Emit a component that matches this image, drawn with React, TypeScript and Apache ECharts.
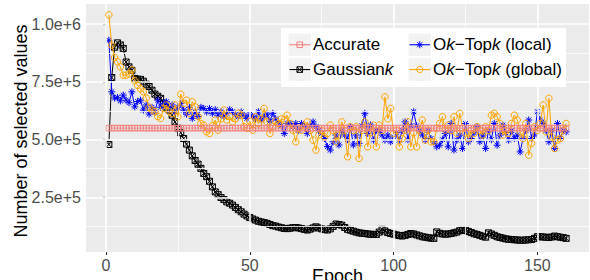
import { useEffect, useRef } from "react";
import * as echarts from "echarts";

// ---------- data (values in thousands of selected values) ----------
const epochs = Array.from({ length: 160 }, (_, i) => i + 1);
const accurateValue = 550;
const gaussianK = [
  479, 769, 900, 919, 910, 895, 836, 815, 800, 765,
  762, 761, 753, 740, 730, 714, 697, 688, 679, 658,
  640, 628, 606, 577, 550, 530, 505, 481, 455, 430,
  410, 394, 376, 354, 340, 320, 296, 274, 262, 250,
  241, 231, 225, 217, 207, 197, 188, 178, 170, 163,
  157, 152, 147, 144, 141, 138, 133, 128, 126, 122,
  119, 116, 115, 117, 119, 120, 118, 115, 112, 109,
  113, 118, 123, 118, 114, 111, 109, 114, 125, 135,
  133, 130, 120, 112, 108, 104, 100, 97, 95, 94,
  92, 91, 90, 90, 100, 112, 105, 98, 94, 91,
  88, 85, 83, 86, 90, 94, 92, 88, 84, 80,
  78, 76, 74, 73, 101, 95, 92, 91, 92, 94,
  97, 100, 106, 109, 108, 103, 98, 93, 90, 86,
  82, 78, 97, 92, 86, 80, 77, 74, 71, 69,
  68, 67, 66, 65, 65, 66, 67, 68, 73, 80,
  80, 79, 78, 77, 79, 83, 80, 78, 76, 73,
];
const oktopkLocal = [
  930, 707, 680, 683, 668, 693, 671, 660, 707, 642,
  665, 671, 628, 650, 611, 640, 620, 671, 640, 657,
  664, 630, 650, 620, 640, 657, 628, 610, 640, 592,
  620, 600, 640, 635, 620, 635, 614, 630, 606, 621,
  600, 614, 630, 621, 610, 599, 620, 605, 592, 610,
  600, 590, 621, 585, 600, 610, 580, 614, 590, 575,
  560, 527, 570, 570, 555, 570, 541, 570, 556, 527,
  560, 577, 556, 540, 527, 505, 470, 455, 491, 520,
  477, 540, 520, 500, 556, 477, 520, 484, 560, 614,
  527, 563, 498, 541, 541, 520, 498, 520, 491, 512,
  530, 498, 540, 577, 500, 560, 621, 560, 541, 520,
  498, 540, 505, 491, 469, 476, 500, 527, 469, 570,
  455, 498, 520, 462, 570, 491, 505, 530, 556, 491,
  520, 462, 541, 500, 570, 476, 520, 563, 530, 498,
  540, 505, 520, 447, 505, 540, 585, 505, 520, 621,
  585, 570, 540, 491, 541, 462, 570, 505, 541, 534,
];
const oktopkGlobal = [
  1040, 909, 856, 837, 815, 779, 779, 784, 801, 755,
  735, 720, 707, 680, 640, 628, 621, 600, 592, 635,
  650, 621, 614, 650, 599, 697, 657, 671, 614, 664,
  642, 600, 570, 563, 534, 527, 560, 585, 541, 590,
  628, 585, 600, 577, 590, 614, 606, 556, 549, 580,
  541, 599, 570, 590, 635, 577, 527, 556, 580, 570,
  590, 585, 606, 570, 540, 491, 549, 541, 560, 577,
  540, 498, 455, 520, 540, 512, 527, 563, 540, 491,
  520, 577, 540, 426, 556, 540, 556, 419, 540, 577,
  469, 530, 563, 469, 563, 540, 685, 590, 635, 527,
  540, 469, 505, 540, 577, 469, 530, 469, 540, 585,
  498, 540, 491, 491, 549, 570, 599, 541, 563, 540,
  599, 527, 614, 549, 530, 505, 541, 527, 556, 540,
  520, 556, 540, 606, 614, 599, 570, 520, 540, 527,
  570, 606, 585, 534, 505, 570, 433, 484, 556, 540,
  570, 650, 534, 679, 512, 462, 498, 505, 540, 570,
];
const xTicks = [0, 50, 100, 150];
const xMinorTicks = [25, 75, 125];
const yTicks = [250000, 500000, 750000, 1000000];
const yTickLabels = ["2.5e+5", "5.0e+5", "7.5e+5", "1.0e+6"];
const yMinorTicks = [125000, 375000, 625000, 875000];
const seriesNames = ["Accurate", "Gaussiank", "Ok\u2212Topk (local)", "Ok\u2212Topk (global)"];
const legendLabels = [
  "Accurate",
  "Gaussian{i|k}",
  "O{i|k}\u2212Top{i|k} (local)",
  "O{i|k}\u2212Top{i|k} (global)",
];
const xTitle = "Epoch";
const yTitle = "Number of selected values";

// ---------- styles ----------
const FONT = '"Liberation Sans", Arial, Helvetica, sans-serif';
const COLORS = ["#F08080", "#000000", "#0000FF", "#FFA500"];
const CLEAR = "rgba(0,0,0,0)";
const SYM_BOXCROSS = "path://M0 0H10V10H0Z M0 0L10 10 M10 0L0 10";
const SYM_STAR = "path://M5 0V10 M0 5H10 M1.5 1.5L8.5 8.5 M8.5 1.5L1.5 8.5";

const toPairs = (vals: number[]) => epochs.map((e, i) => [e, vals[i] * 1000]);

function legendGraphic() {
  const els: any[] = [];
  els.push({
    type: "rect",
    z: 100,
    shape: { x: 281, y: 28, width: 285, height: 59 },
    style: { fill: "#FFFFFF" },
  });
  const cols = [288.5, 408.5];
  const rows = [33.5, 58.3];
  const kw = 22.5;
  for (let k = 0; k < 4; k++) {
    const x0 = cols[k < 2 ? 0 : 1];
    const y0 = rows[k % 2];
    const cx = x0 + kw / 2;
    const cy = y0 + kw / 2;
    const col = COLORS[k];
    els.push({ type: "rect", z: 101, shape: { x: x0, y: y0, width: kw, height: kw }, style: { fill: "#F2F2F2" } });
    els.push({
      type: "line",
      z: 102,
      shape: { x1: x0 + 1, y1: cy, x2: x0 + kw - 1, y2: cy },
      style: { stroke: col, lineWidth: 1.1 },
    });
    if (k === 0) {
      els.push({ type: "rect", z: 103, shape: { x: cx - 2.8, y: cy - 2.8, width: 5.6, height: 5.6 }, style: { fill: CLEAR, stroke: col, lineWidth: 1 } });
    } else if (k === 1) {
      els.push({ type: "rect", z: 103, shape: { x: cx - 2.8, y: cy - 2.8, width: 5.6, height: 5.6 }, style: { fill: CLEAR, stroke: col, lineWidth: 1 } });
      els.push({ type: "line", z: 103, shape: { x1: cx - 2.8, y1: cy - 2.8, x2: cx + 2.8, y2: cy + 2.8 }, style: { stroke: col, lineWidth: 1 } });
      els.push({ type: "line", z: 103, shape: { x1: cx + 2.8, y1: cy - 2.8, x2: cx - 2.8, y2: cy + 2.8 }, style: { stroke: col, lineWidth: 1 } });
    } else if (k === 2) {
      const r = 3.5;
      const d = r * 0.72;
      els.push({ type: "line", z: 103, shape: { x1: cx, y1: cy - r, x2: cx, y2: cy + r }, style: { stroke: col, lineWidth: 1 } });
      els.push({ type: "line", z: 103, shape: { x1: cx - r, y1: cy, x2: cx + r, y2: cy }, style: { stroke: col, lineWidth: 1 } });
      els.push({ type: "line", z: 103, shape: { x1: cx - d, y1: cy - d, x2: cx + d, y2: cy + d }, style: { stroke: col, lineWidth: 1 } });
      els.push({ type: "line", z: 103, shape: { x1: cx + d, y1: cy - d, x2: cx - d, y2: cy + d }, style: { stroke: col, lineWidth: 1 } });
    } else {
      els.push({ type: "circle", z: 103, shape: { cx, cy, r: 3.1 }, style: { fill: CLEAR, stroke: col, lineWidth: 1 } });
    }
    els.push({
      type: "text",
      z: 103,
      x: x0 + kw + 2,
      y: cy,
      style: {
        text: legendLabels[k],
        fill: "#000000",
        fontSize: 17,
        fontFamily: FONT,
        align: "left",
        verticalAlign: "middle",
        textAlign: "left",
        textVerticalAlign: "middle",
        rich: { i: { fontStyle: "italic", fontSize: 17, fontFamily: FONT, fill: "#000000" } },
      },
    });
  }
  return els;
}

export default function App() {
  const ref = useRef<HTMLDivElement>(null);
  useEffect(() => {
    if (!ref.current) return;
    const chart = echarts.init(ref.current, undefined, { renderer: "svg" });

    const gridLines = [
      ...xTicks.map((v) => ({ xAxis: v, lineStyle: { color: "#FFFFFF", width: 1.6, type: "solid" } })),
      ...xMinorTicks.map((v) => ({ xAxis: v, lineStyle: { color: "#FFFFFF", width: 0.8, type: "solid" } })),
      ...yTicks.map((v) => ({ yAxis: v, lineStyle: { color: "#FFFFFF", width: 1.6, type: "solid" } })),
      ...yMinorTicks.map((v) => ({ yAxis: v, lineStyle: { color: "#FFFFFF", width: 0.8, type: "solid" } })),
    ];

    chart.setOption({
      animation: false,
      backgroundColor: "#FFFFFF",
      grid: {
        left: 86,
        right: 1,
        top: 4,
        bottom: 28,
        show: true,
        backgroundColor: "#EBEBEB",
        borderWidth: 0,
        containLabel: false,
      },
      xAxis: {
        type: "value",
        min: -6.95,
        max: 167.95,
        axisLine: { show: false },
        splitLine: { show: false },
        axisTick: {
          show: true,
          length: 3,
          customValues: xTicks,
          lineStyle: { color: "#333333", width: 1.1 },
        },
        axisLabel: {
          show: true,
          customValues: xTicks,
          margin: 5,
          color: "#4D4D4D",
          fontSize: 16,
          fontFamily: FONT,
          formatter: (v: number) => String(v),
        },
      },
      yAxis: {
        type: "value",
        min: 14000,
        max: 1087000,
        axisLine: { show: false },
        splitLine: { show: false },
        axisTick: {
          show: true,
          length: 3,
          customValues: yTicks,
          lineStyle: { color: "#333333", width: 1.1 },
        },
        axisLabel: {
          show: true,
          customValues: yTicks,
          margin: 5,
          color: "#4D4D4D",
          fontSize: 16,
          fontFamily: FONT,
          formatter: (v: number) => {
            const i = yTicks.indexOf(v);
            return i >= 0 ? yTickLabels[i] : "";
          },
        },
      },
      series: [
        {
          name: "grid",
          type: "line",
          z: 1,
          data: [[-100, -100]],
          showSymbol: false,
          lineStyle: { width: 0 },
          silent: true,
          markLine: {
            silent: true,
            symbol: ["none", "none"],
            label: { show: false },
            data: gridLines,
          },
        },
        {
          name: seriesNames[1],
          type: "line",
          z: 3,
          data: toPairs(gaussianK),
          symbol: SYM_BOXCROSS,
          symbolSize: 6,
          itemStyle: { color: CLEAR, borderColor: COLORS[1], borderWidth: 1 },
          lineStyle: { color: COLORS[1], width: 1 },
        },
        {
          name: seriesNames[2],
          type: "line",
          z: 4,
          data: toPairs(oktopkLocal),
          symbol: SYM_STAR,
          symbolSize: 7,
          itemStyle: { color: CLEAR, borderColor: COLORS[2], borderWidth: 1 },
          lineStyle: { color: COLORS[2], width: 1 },
        },
        {
          name: seriesNames[3],
          type: "line",
          z: 5,
          data: toPairs(oktopkGlobal),
          symbol: "circle",
          symbolSize: 6.5,
          itemStyle: { color: CLEAR, borderColor: COLORS[3], borderWidth: 1 },
          lineStyle: { color: COLORS[3], width: 1 },
        },
        {
          name: seriesNames[0],
          type: "line",
          z: 6,
          data: epochs.map((e) => [e, accurateValue * 1000]),
          symbol: "rect",
          symbolSize: 5.5,
          itemStyle: { color: CLEAR, borderColor: COLORS[0], borderWidth: 1, opacity: 0.85 },
          lineStyle: { color: COLORS[0], width: 1, opacity: 0.85 },
        },
      ],
      graphic: [
        {
          type: "text",
          z: 100,
          x: 21,
          y: 131,
          rotation: Math.PI / 2,
          style: {
            text: yTitle,
            fill: "#000000",
            fontSize: 18,
            fontFamily: FONT,
            align: "center",
            verticalAlign: "middle",
            textAlign: "center",
            textVerticalAlign: "middle",
          },
        },
        {
          type: "text",
          z: 100,
          x: 337.5,
          y: 276,
          style: {
            text: xTitle,
            fill: "#000000",
            fontSize: 18,
            fontFamily: FONT,
            align: "center",
            verticalAlign: "middle",
            textAlign: "center",
            textVerticalAlign: "middle",
          },
        },
        ...legendGraphic(),
      ],
    });
    return () => chart.dispose();
  }, []);
  return <div ref={ref} style={{ position: "fixed", left: 0, top: 0, width: 590, height: 280 }} />;
}
